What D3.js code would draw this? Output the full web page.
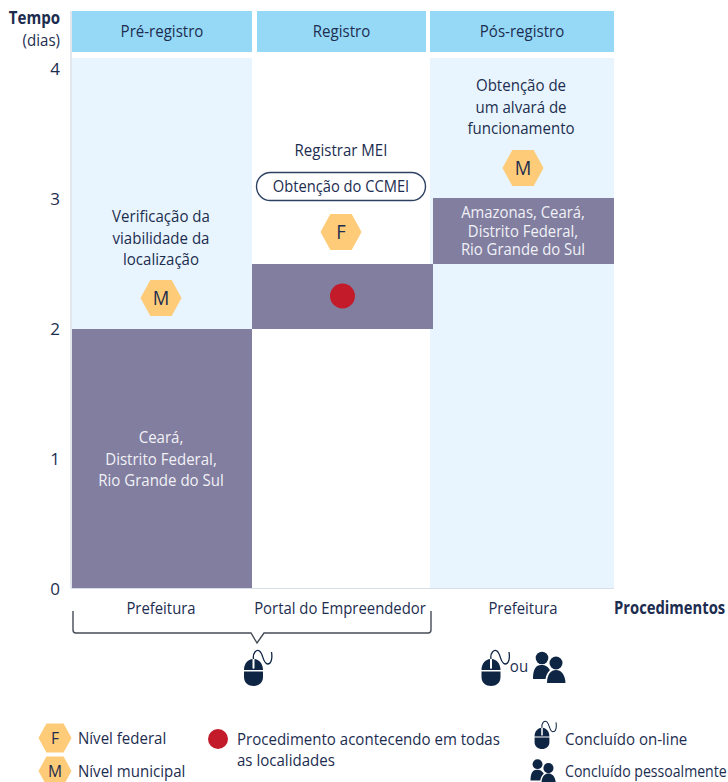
<!DOCTYPE html>
<html><head><meta charset="utf-8">
<script src="https://cdn.jsdelivr.net/npm/d3@7/dist/d3.min.js"></script>
<style>html,body{margin:0;padding:0;background:#fff}svg{display:block}</style>
</head><body><svg id="c" width="728" height="782"></svg>
<script>
const stages = ["Pré-registro","Registro","Pós-registro"];
const agencies = ["Prefeitura","Portal do Empreendedor","Prefeitura"];
const segmentStart = [0,1.99,2.49];
const segmentEnd = [1.99,2.49,3];
const yTicks = [0,1,2,3,4];
const segmentLabels = [["Ceará,","Distrito Federal,","Rio Grande do Sul"],[],["Amazonas, Ceará,","Distrito Federal,","Rio Grande do Sul"]];
const stepLabels = [["Verificação da","viabilidade da","localização"],["Registrar MEI"],["Obtenção de","um alvará de","funcionamento"]];
const levels = ["M","F","M"];
const legendLevels = ["Nível federal","Nível municipal"];

const NAVY="#0f2544", TXT="#1c2d4f", PUR="#817ea0", HEX="#fecb78", RED="#c31b29", HDR="#96d9f7", LIGHT="#e8f5fe";
const svg=d3.select("#c");
const y=d3.scaleLinear().domain([0,4]).range([588,68]);
const edges=[72,252,433,614];
const cx=[161,341,523];

function T(x,yy,s,o={}){
  const sx=o.sx||0.885, a=o.anchor||"middle";
  return svg.append("text").attr("transform",`translate(${x},${yy}) scale(${sx},1)`)
    .attr("text-anchor",a).attr("font-family","'Open Sans',sans-serif")
    .attr("font-size",o.size||17).attr("font-weight",o.weight||400).attr("fill",o.fill||TXT).text(s);
}
function hexagon(x,yy,w,h,l,size){
  const q=w*0.24;
  const pts=[[x-w/2,yy],[x-w/2+q,yy-h/2],[x+w/2-q,yy-h/2],[x+w/2,yy],[x+w/2-q,yy+h/2],[x-w/2+q,yy+h/2]];
  svg.append("path").attr("d",d3.line()(pts)+"Z").attr("fill",HEX);
  T(x,yy+size*0.37,l,{size,sx:0.92});
}
function mouse(x,yy,k){
  const g=svg.append("g").attr("transform",`translate(${x},${yy}) scale(${k})`);
  g.append("path").attr("d","M-9.5,-2 C-9.5,-9 -5,-12.5 -1,-13 L-1,-4 C-1,-3 1,-3 1,-4 L1,-13 C5,-12.5 9.5,-9 9.5,-2 Z").attr("fill",NAVY);
  g.append("path").attr("d","M-9.5,-0.5 L9.5,-0.5 L9.5,5 C9.5,11 5,14 0,14 C-5,14 -9.5,11 -9.5,5 Z").attr("fill",NAVY);
  g.append("path").attr("d","M0,-13 C-1,-19 3,-23 6,-21 C10,-18 9,-9 14,-8 C18,-8 19,-14 18,-20").attr("fill","none").attr("stroke",NAVY).attr("stroke-width",1.3);
}
function people(x,yy,k){
  const g=svg.append("g").attr("transform",`translate(${x},${yy}) scale(${k})`);
  g.append("circle").attr("cx",-7).attr("cy",-10).attr("r",6.3).attr("fill",NAVY);
  g.append("path").attr("d","M-16,11 C-16,1 -13,-3 -8,-3 C-3,-3 -1,-1 1,2 C-2,5 -3,8 -3.5,11 Z").attr("fill",NAVY);
  g.append("circle").attr("cx",7).attr("cy",-5).attr("r",6.5).attr("fill",NAVY);
  g.append("path").attr("d","M-2,15 C-2,6 2,2 7,2 C12,2 16,6 16.5,15 Z").attr("fill",NAVY);
}

// light panels
[[72,252],[430,614]].forEach(d=>svg.append("rect").attr("x",d[0]).attr("y",58).attr("width",d[1]-d[0]).attr("height",530).attr("fill",LIGHT));
// headers
[[72,252],[257,426],[430,614]].forEach((d,i)=>{
  svg.append("rect").attr("x",d[0]).attr("y",11).attr("width",d[1]-d[0]).attr("height",41).attr("fill",HDR);
  T((d[0]+d[1])/2,37,stages[i]);
});
// axis lines
svg.append("line").attr("x1",71).attr("x2",71).attr("y1",11).attr("y2",588).attr("stroke","#d9dfe9").attr("stroke-width",1.5);
svg.append("line").attr("x1",71).attr("x2",614).attr("y1",588.5).attr("y2",588.5).attr("stroke","#d9dfe9");
// segments
segmentStart.forEach((s,i)=>{
  const top=Math.round(y(segmentEnd[i])), bot=Math.round(y(s));
  svg.append("rect").attr("x",edges[i]).attr("width",edges[i+1]-edges[i]).attr("y",top).attr("height",bot-top).attr("fill",PUR);
});
// y axis
const ax=svg.append("g").attr("transform","translate(60,0)").call(d3.axisLeft(y).tickValues(yTicks).tickFormat(d3.format("d")).tickSize(0).tickPadding(0));
ax.select(".domain").remove();
ax.selectAll("text").attr("font-family","'Open Sans',sans-serif").attr("font-size",17).attr("fill",TXT).attr("dy",".36em");
T(60,24,"Tempo",{weight:700,anchor:"end"});
T(60,46,"(dias)",{anchor:"end"});
// step labels
const stepBase=[222,156,91];
stepLabels.forEach((ls,i)=>ls.forEach((l,j)=>T(cx[i]+(i==2?-2:0),stepBase[i]+j*21.5,l)));
// pill
svg.append("rect").attr("x",256.5).attr("y",172.5).attr("width",169).attr("height",28).attr("rx",14).attr("fill","#fff").attr("stroke","#2d4263").attr("stroke-width",1.4);
T(341,192,"Obtenção do CCMEI",{sx:0.865});
// hexagons
const hexY=[298,232,168];
levels.forEach((l,i)=>hexagon(cx[i],hexY[i],41,36,l,20));
// segment labels
const segBase=[443,0,218];
segmentLabels.forEach((ls,i)=>ls.forEach((l,j)=>T(cx[i],segBase[i]+j*(i==0?21.5:18.5),l,
  i==0?{fill:"#f1f1f6"}:{fill:"#f1f1f6",size:16,sx:0.93})));
svg.append("circle").attr("cx",342.5).attr("cy",296).attr("r",12.5).attr("fill",RED);
// x labels
agencies.forEach((a,i)=>T(i==1?340:cx[i],614,a,{sx:0.875}));
T(614,614,"Procedimentos",{weight:700,anchor:"start",sx:0.87});
// bracket
svg.append("path").attr("fill","none").attr("stroke","#454c57").attr("stroke-width",1.4)
 .attr("d","M73,611 V630 Q73,633 76,633 H251 L257,643 L264,633 H428 Q431,633 431,630 V611");
// icons
mouse(253.5,672,1);
mouse(491,672,1);
T(519,672,"ou");
people(549,668,1);
// legend
hexagon(55,738,33,29,"F",17);
hexagon(55,771,33,29,"M",17);
T(78,744,legendLevels[0],{anchor:"start"});
T(78,777,legendLevels[1],{anchor:"start"});
svg.append("circle").attr("cx",218).attr("cy",739).attr("r",10).attr("fill",RED);
T(237,745,"Procedimento acontecendo em todas",{anchor:"start"});
T(237,766,"as localidades",{anchor:"start"});
mouse(542,738,0.78);
T(565,745,"Concluído on-line",{anchor:"start"});
people(543,772,0.78);
T(565,777,"Concluído pessoalmente",{anchor:"start",sx:0.83});
</script></body></html>
